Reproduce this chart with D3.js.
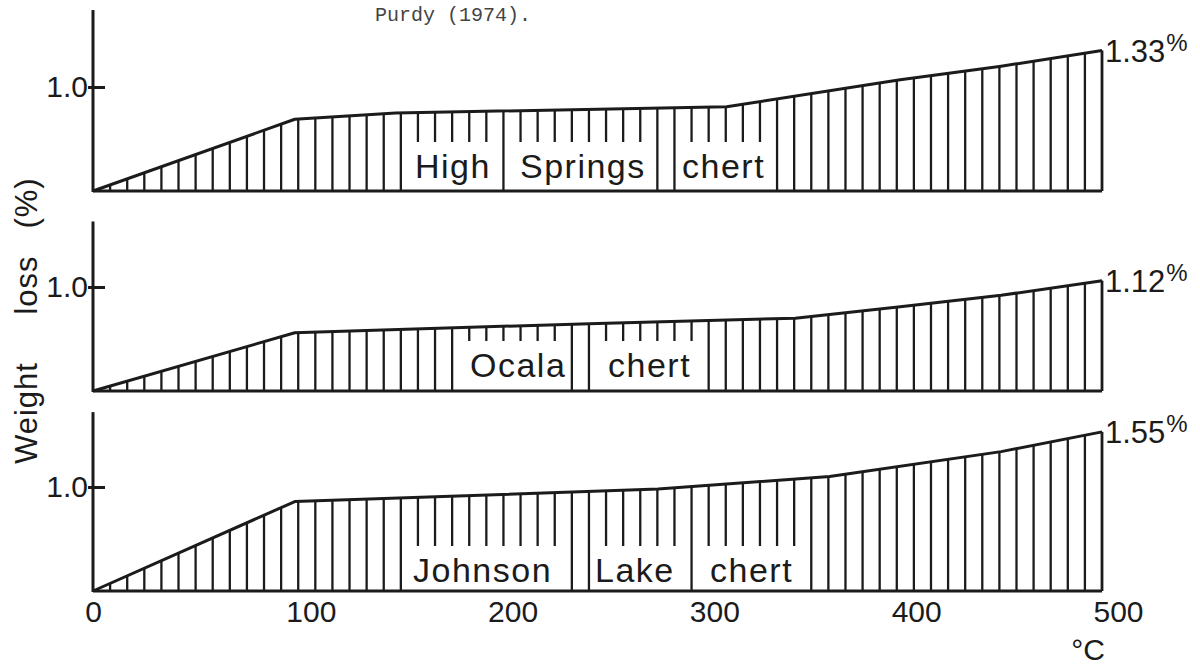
<!DOCTYPE html>
<html>
<head>
<meta charset="utf-8">
<script src="https://cdn.jsdelivr.net/npm/d3@7"></script>
<style>
  body { margin: 0; background: #fff; }
  svg { display: block; }
  text { font-family: "Liberation Sans", Arial, sans-serif; fill: #1b1b1b; }
</style>
</head>
<body>
<div id="chart"></div>
<script>
// weight loss (%) vs temperature (°C)
var highSpringsT = [0, 100, 150, 314, 400, 450, 500];
var highSpringsW = [0, 0.69, 0.75, 0.81, 1.07, 1.20, 1.35];

var ocalaT = [0, 100, 250, 348, 400, 450, 500];
var ocalaW = [0, 0.56, 0.65, 0.70, 0.81, 0.92, 1.06];

var johnsonT = [0, 100, 280, 365, 450, 500];
var johnsonW = [0, 0.86, 0.98, 1.10, 1.34, 1.53];

var names = [["High", "Springs", "chert"], ["Ocala", "chert"], ["Johnson", "Lake", "chert"]];
var endLabels = ["1.33", "1.12", "1.55"];
var xTicks = [0, 100, 200, 300, 400, 500];
var yTicks = [1.0];

// layout
var width = 1200, height = 665;
var panelBase = [191, 391, 591];
var axisTop = [1.74, 1.63, 1.72];
var wordX = [[415, 520, 682], [470, 608], [413, 595, 710]];
var wordBase = [-13, -14, -9];
var hatchCount = 59;
var ink = "#1b1b1b";

var series = [
  { t: highSpringsT, w: highSpringsW },
  { t: ocalaT, w: ocalaW },
  { t: johnsonT, w: johnsonW }
];

var svg = d3.select("#chart").append("svg")
  .attr("width", width)
  .attr("height", height);

svg.append("text")
  .attr("x", 375)
  .attr("y", 21)
  .style("font-family", "'Liberation Mono', 'Courier New', monospace")
  .style("font-size", "20px")
  .style("fill", "#444")
  .text("Purdy (1974).");

var x = d3.scaleLinear().domain([0, 500]).range([93, 1102]);
var y = d3.scaleLinear().domain([0, 1]).range([0, -104]);

var line = d3.line()
  .x(d => x(d[0]))
  .y(d => y(d[1]));

series.forEach(function (s, i) {
  var g = svg.append("g").attr("transform", `translate(0, ${panelBase[i]})`);
  var curve = d3.scaleLinear().domain(s.t).range(s.w);

  // label words, measured so the hatching can stop above them
  var blocks = [];
  names[i].forEach(function (word, j) {
    var t = g.append("text")
      .attr("x", wordX[i][j])
      .attr("y", wordBase[i])
      .style("font-size", "34px")
      .style("letter-spacing", "1.5px")
      .text(word);
    var len = t.node().getComputedTextLength();
    blocks.push([wordX[i][j] - 5, wordX[i][j] + len + 4, wordBase[i] - 36]);
  });

  var hatch = d3.range(hatchCount + 1).map(k => k * 500 / hatchCount);
  g.selectAll(".hatch")
    .data(hatch)
    .enter()
    .append("line")
    .attr("class", "hatch")
    .attr("x1", d => x(d))
    .attr("x2", d => x(d))
    .attr("y1", d => y(curve(d)))
    .attr("y2", function (d) {
      var px = x(d);
      var b = blocks.find(bl => px >= bl[0] && px <= bl[1]);
      return b ? Math.max(b[2], y(curve(d)) + 6) : 0;
    })
    .attr("stroke", ink)
    .attr("stroke-width", 2.3);

  g.append("path")
    .datum(s.t.map((t, k) => [t, s.w[k]]))
    .attr("d", line)
    .attr("fill", "none")
    .attr("stroke", ink)
    .attr("stroke-width", 3)
    .attr("stroke-linejoin", "round");

  // baseline, right edge and y axis
  g.append("line")
    .attr("x1", x(0)).attr("x2", x(500))
    .attr("y1", 0).attr("y2", 0)
    .attr("stroke", ink).attr("stroke-width", 3);
  g.append("line")
    .attr("x1", x(500)).attr("x2", x(500))
    .attr("y1", 0).attr("y2", y(curve(500)))
    .attr("stroke", ink).attr("stroke-width", 2.6);
  g.append("line")
    .attr("x1", x(0)).attr("x2", x(0))
    .attr("y1", 1).attr("y2", y(axisTop[i]))
    .attr("stroke", ink).attr("stroke-width", 3);

  var yAxis = d3.axisLeft(y)
    .tickValues(yTicks)
    .tickFormat(d3.format(".1f"))
    .tickSizeInner(-12)
    .tickSizeOuter(0)
    .tickPadding(5);
  var ya = g.append("g").attr("transform", `translate(${x(0)}, 0)`).call(yAxis);
  ya.select(".domain").remove();
  ya.selectAll(".tick line").attr("x1", -5).attr("stroke", ink).attr("stroke-width", 3);
  ya.selectAll(".tick text")
    .style("font-size", "30px")
    .style("font-family", "'Liberation Sans', Arial, sans-serif")
    .attr("fill", ink);

  // end value with raised percent sign
  var end = g.append("text")
    .attr("x", x(500) + 3)
    .attr("y", y(curve(500)) + 11)
    .style("font-size", "31px");
  end.append("tspan").text(endLabels[i]);
  end.append("tspan")
    .attr("dy", -11)
    .attr("dx", 1)
    .style("font-size", "24px")
    .text("%");
});

var xAxis = d3.axisBottom(x)
  .tickValues(xTicks)
  .tickSize(0)
  .tickPadding(10);
var xa = svg.append("g")
  .attr("transform", `translate(0, ${panelBase[2]})`)
  .call(xAxis);
xa.select(".domain").remove();
xa.selectAll(".tick text")
  .attr("dx", d => d === 0 ? 0 : 16)
  .style("font-size", "30px")
  .style("font-family", "'Liberation Sans', Arial, sans-serif")
  .attr("fill", ink);

svg.append("text")
  .attr("x", 1088)
  .attr("y", 660)
  .attr("text-anchor", "middle")
  .style("font-size", "30px")
  .text("°C");

// y title, one word at a time as in the original lettering
var yTitle = [["Weight", 413], ["loss", 285], ["(%)", 203]];
yTitle.forEach(function (d) {
  svg.append("text")
    .attr("transform", `translate(37, ${d[1]}) rotate(-90)`)
    .attr("text-anchor", "middle")
    .style("font-size", "31px")
    .style("letter-spacing", "1px")
    .text(d[0]);
});
</script>
</body>
</html>
